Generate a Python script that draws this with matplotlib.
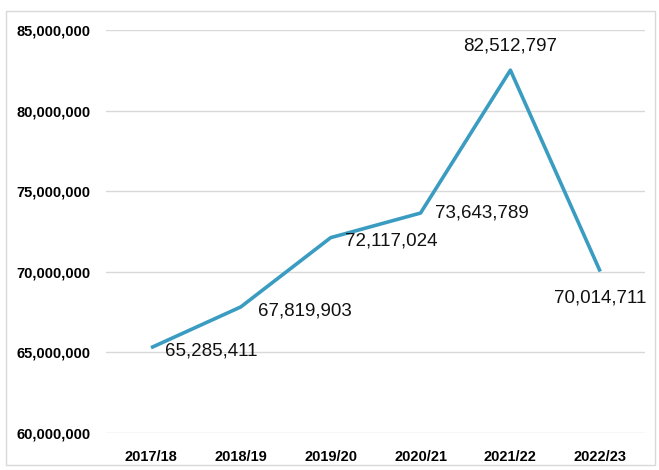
import matplotlib.pyplot as plt
from matplotlib.patches import Rectangle
from matplotlib.ticker import FuncFormatter

years = ["2017/18", "2018/19", "2019/20", "2020/21", "2021/22", "2022/23"]
values = [65285411, 67819903, 72117024, 73643789, 82512797, 70014711]
# label offsets in pixels (dx, dy) and alignment for each data label
label_offsets = [(14, -3), (17, -4), (14, -3), (14, 0), (0, 24), (0, -26)]
label_ha = ["left", "left", "left", "left", "center", "center"]

plt.rcParams['font.family'] = ['Liberation Sans', 'DejaVu Sans']

fig = plt.figure(figsize=(6.59, 4.70), dpi=100)
ax = fig.add_axes([0.161, 0.079, 0.818, 0.857])

x = list(range(len(years)))
ax.plot(x, values, color='#3b9cc2', linewidth=2.6, solid_capstyle='butt', zorder=3)

for i, v in enumerate(values):
    ax.annotate(f"{v:,}", (x[i], v), xytext=label_offsets[i], textcoords='offset pixels',
                ha=label_ha[i], va='center', fontsize=13.5, color='#111111')

ax.set_xlim(-0.5, 5.5)
ax.set_ylim(60000000, 85000000)
ax.set_yticks(range(60000000, 85000001, 5000000))
ax.yaxis.set_major_formatter(FuncFormatter(lambda v, p: f"{int(v):,}"))
ax.set_xticks(x)
ax.set_xticklabels(years)
for lbl in ax.get_xticklabels() + ax.get_yticklabels():
    lbl.set_fontweight('bold')
    lbl.set_fontsize(10.5)
ax.tick_params(length=0, pad=12)
ax.tick_params(axis='y', pad=11)
ax.grid(True, axis='y', color='#d9d9d9', linewidth=1)
for s in ax.spines.values():
    s.set_visible(False)

fig.patches.append(Rectangle((6 / 659, 5 / 470), 649 / 659, 454 / 470, transform=fig.transFigure,
                             fill=False, edgecolor='#d9d9d9', linewidth=1))

plt.savefig("out.png", dpi=100)
